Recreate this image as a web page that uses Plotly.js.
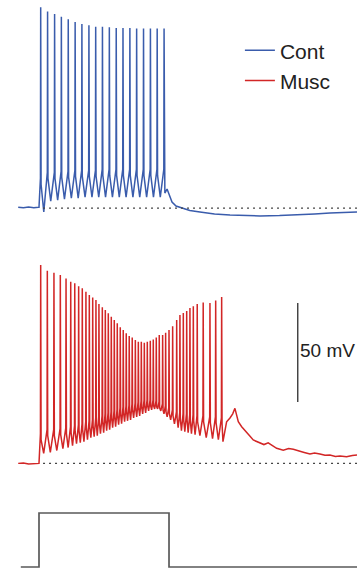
<!DOCTYPE html>
<html>
<head>
<meta charset="utf-8">
<script src="https://cdn.plot.ly/plotly-3.0.1.min.js"></script>
<style>html,body{margin:0;padding:0;background:#fff;}#chart{width:357px;height:569px;}</style>
</head>
<body>
<div id="chart"></div>
<script>
// ---- Data (time in ms, membrane potential in mV, current step in relative units) ----
const stimT = [-140, 0, 0, 1000, 1000, 2446];
const stimI = [0, 0, 1, 1, 0, 0];

// Control (blue)
const contPreT = [-160, -120, -80, -40, -5, 0];
const contPreV = [-64.6, -64.9, -64.5, -64.8, -64.6, -64.6];
const contSpikeT = [13, 66, 120, 172, 225, 278, 330, 384, 436, 488, 541, 594, 646, 699, 751, 804, 857, 909, 962];
const contPeakV = [36.4, 34.3, 33.0, 31.6, 30.3, 28.9, 27.9, 27.3, 26.6, 26.6, 26.3, 25.9, 25.9, 25.9, 25.6, 25.6, 25.6, 25.6, 25.6];
const contThreshV = [-50, -47, -47, -46.5, -46.5, -46, -46, -46, -46, -45.5, -45.5, -45.5, -45.5, -45.5, -45.5, -45.5, -45.5, -45.5, -45.5];
const contTroughV = [-67, -61.5, -61, -60.5, -60, -60, -59.5, -59.5, -59.5, -59.5, -59.5, -59.5, -59.5, -59.5, -59.5, -59.5, -59.5, -59.5];
const contTailT = [968, 985, 1000, 1023, 1054, 1100, 1160, 1238, 1350, 1469, 1600, 1700, 1850, 2007, 2120, 2238, 2350, 2446];
const contTailV = [-57.4, -55.4, -58, -62, -64, -65, -66.2, -67, -68, -68.5, -68.8, -69, -68.8, -68.5, -68, -67.5, -67.2, -67];

// Muscarine (red)
const muscPreT = [-160, -120, -80, -40, -5, 0];
const muscPreV = [-65, -64.8, -65.3, -65, -65, -65];
const muscSpikeT = [13, 64, 115, 164, 208, 244, 275, 305, 333, 361, 387, 413, 438, 461, 487, 510, 533, 556, 579, 602,
  625, 648, 671, 694, 717, 741, 764, 787, 810, 833, 856, 879, 902, 925, 951, 974, 1000, 1028, 1059, 1084,
  1110, 1136, 1161, 1187, 1217, 1263, 1315, 1359, 1405];
const muscPeakV = [35.2, 32.3, 31.3, 30.1, 28.4, 26.7, 25.9, 24.5, 23.4, 21.7, 20.0, 18.8, 17.5, 15.5, 13.8, 12.4, 10.8, 9.0, 7.4, 5.7,
  3.7, 2.3, 0.7, -0.7, -1.4, -2.7, -3.6, -3.6, -4.1, -3.6, -3.1, -2.4, -1.4, -0.2, -0.2, 1.0, 2.3, 4.3, 7.4, 9.9,
  10.9, 11.9, 13.4, 14.4, 15.5, 16.2, 16.0, 17.2, 19.0];
const muscThreshV = [-50, -48, -48, -47.5, -47, -46.5, -46, -45.5, -45, -44, -43.5, -43, -42, -41.5, -41, -40, -39.5, -39, -38.5, -38,
  -37, -36.5, -36, -35.5, -35, -34.5, -34, -33.5, -33, -33, -33, -33, -33.5, -34, -35, -36, -37, -38, -39, -39.5,
  -40, -40, -40.5, -40.5, -41, -41, -41.5, -41.5, -42];
const muscTroughV = [-60, -59.5, -58.5, -57.5, -57, -56, -55, -54.5, -54, -53, -52, -51.5, -51, -50, -49.5, -48.5, -48, -47, -46.5, -45.5,
  -45, -44, -43.5, -43, -42, -41.5, -41, -40, -39.5, -38.5, -38, -37.5, -37.5, -38.5, -40, -41.5, -43, -45, -47, -48.5,
  -49, -49.5, -50, -50.5, -51, -52, -52.5, -53];
const muscTailT = [1415, 1430, 1443, 1469, 1490, 1507, 1520, 1533, 1559, 1597, 1620, 1648, 1700, 1730, 1763, 1800, 1828, 1879, 1920, 1956,
  2007, 2040, 2084, 2120, 2161, 2200, 2238, 2280, 2315, 2366, 2410, 2446];
const muscTailV = [-54, -48, -44, -42.1, -40, -37.2, -40.5, -44, -46.5, -49, -51, -53.2, -54.9, -55.5, -54.6, -56, -57.4, -58.3, -57.5, -57.9,
  -59.1, -59.5, -60.3, -59.8, -60.3, -60.9, -60.8, -61.5, -61.3, -61.7, -61, -60.8];

const restV = -65;
const scaleBarV = [-34, 16];
const scaleBarT = 1990;

// ---- Build voltage traces from the read-off spike table ----
function buildTrace(preT, preV, spT, pkV, thV, trV, tailT, tailV) {
  const t = preT.slice(), v = preV.slice();
  for (let i = 0; i < spT.length; i++) {
    t.push(spT[i] - 2); v.push(thV[i]);
    t.push(spT[i]); v.push(pkV[i]);
    t.push(spT[i] + 3); v.push(thV[i] - 3);
    if (i < spT.length - 1) {
      t.push(spT[i] + 0.45 * (spT[i + 1] - spT[i])); v.push(trV[i]);
    }
  }
  return {t: t.concat(tailT), v: v.concat(tailV)};
}
const cont = buildTrace(contPreT, contPreV, contSpikeT, contPeakV, contThreshV, contTroughV, contTailT, contTailV);
const musc = buildTrace(muscPreT, muscPreV, muscSpikeT, muscPeakV, muscThreshV, muscTroughV, muscTailT, muscTailV);

const blue = 'rgb(58,92,172)';
const red = 'rgb(210,38,38)';

const traces = [
  {x: cont.t, y: cont.v, type: 'scatter', mode: 'lines', name: 'Cont', xaxis: 'x', yaxis: 'y',
   line: {color: blue, width: 1.5}},
  {x: musc.t, y: musc.v, type: 'scatter', mode: 'lines', name: 'Musc', xaxis: 'x', yaxis: 'y2',
   line: {color: red, width: 1.5}},
  {x: stimT, y: stimI, type: 'scatter', mode: 'lines', name: 'Stim', showlegend: false, xaxis: 'x', yaxis: 'y3',
   line: {color: '#5a5a5a', width: 1.7}}
];

const hidden = {visible: false, showgrid: false, zeroline: false, showticklabels: false, fixedrange: true};

const layout = {
  width: 357, height: 569,
  margin: {l: 0, r: 0, t: 0, b: 0},
  paper_bgcolor: '#fff', plot_bgcolor: '#fff',
  font: {family: 'Liberation Sans, Arial, sans-serif', color: '#222'},
  showlegend: true,
  legend: {x: 0.672, y: 0.947, xanchor: 'left', yanchor: 'top', bgcolor: 'rgba(0,0,0,0)',
           font: {size: 21, color: '#222'}},
  xaxis: Object.assign({range: [-300, 2446]}, hidden),
  yaxis: Object.assign({domain: [0.587, 1], range: [-78.6, 40.05]}, hidden),
  yaxis2: Object.assign({domain: [0.1564, 0.5782], range: [-73.4, 47.8], anchor: 'x'}, hidden),
  yaxis3: Object.assign({domain: [0, 0.13], range: [-0.037, 1.333], anchor: 'x'}, hidden),
  shapes: [
    {type: 'line', xref: 'x', yref: 'y', x0: 31, x1: 2446, y0: restV, y1: restV,
     line: {color: '#444', width: 1.3, dash: '2px,4px'}},
    {type: 'line', xref: 'x', yref: 'y2', x0: 31, x1: 2446, y0: restV, y1: restV,
     line: {color: '#444', width: 1.3, dash: '2px,4px'}},
    {type: 'line', xref: 'x', yref: 'y2', x0: scaleBarT, x1: scaleBarT, y0: scaleBarV[0], y1: scaleBarV[1],
     line: {color: '#444', width: 1.5}}
  ],
  annotations: [
    {xref: 'x', yref: 'y2', x: scaleBarT + 2, y: (scaleBarV[0] + scaleBarV[1]) / 2 + 1, text: '50 mV',
     showarrow: false, xanchor: 'left', yanchor: 'middle', font: {size: 19, color: '#222'}}
  ]
};

Plotly.newPlot('chart', traces, layout, {staticPlot: true, displayModeBar: false});
</script>
</body>
</html>
